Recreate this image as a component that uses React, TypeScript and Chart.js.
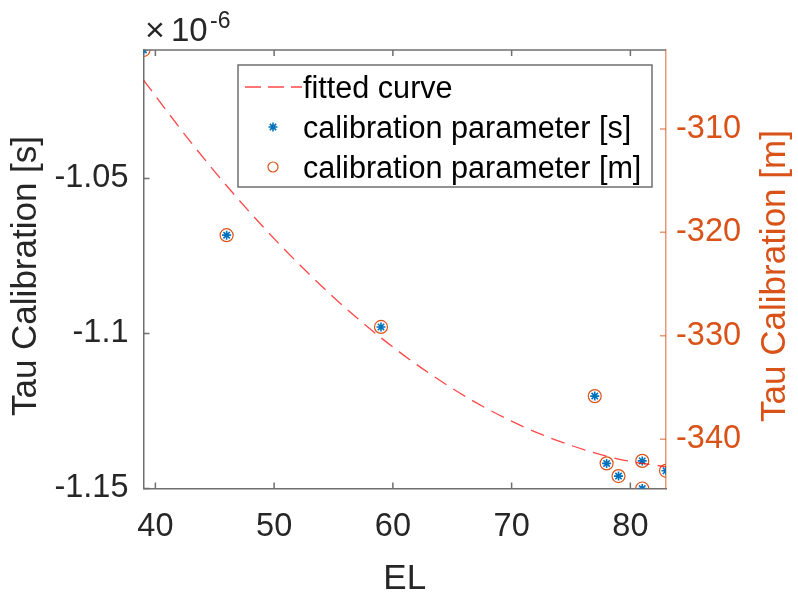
import React, { useEffect, useRef } from 'react';
import { Chart, registerables } from 'chart.js';

Chart.register(...registerables);

// ---- data ----
const elevation = [39, 46, 59, 77, 78, 79, 81, 81, 83];
// Tau calibration in units of 1e-6 s
const tauSeconds = [-1.0086, -1.0683, -1.0979, -1.1202, -1.1419, -1.146, -1.1411, -1.15, -1.1443];
// Tau calibration in metres
const tauMeters = [-302.37, -320.27, -329.14, -335.83, -342.33, -343.56, -342.09, -344.76, -343.05];
// fitted curve
const fitElevation = [39, 43, 47, 51, 55, 59, 63, 67, 71, 75, 79, 83];
const fitTau = [-1.0183, -1.0384, -1.0568, -1.0734, -1.0883, -1.1014, -1.1127, -1.1223, -1.1301, -1.1361, -1.1405, -1.143];

const xTicks = [40, 50, 60, 70, 80];
const leftTicks = [-1.15, -1.1, -1.05];
const rightTicks = [-340, -330, -320, -310];
const xRange = [39, 83];
const leftRange = [-1.15, -1.0086];
const rightRange = [-344.76, -302.37];

const seriesLabels = ['fitted curve', 'calibration parameter [s]', 'calibration parameter [m]'];
const xTitle = 'EL';
const leftTitle = 'Tau Calibration [s]';
const rightTitle = 'Tau Calibration [m]';
const exponentBase = '10';
const exponentPower = '-6';

// ---- styles ----
const FONT = '"Liberation Sans", Arial, Helvetica, sans-serif';
const AXIS = '#6f6f6f';
const TEXT = '#262626';
const BLUE = '#0072BD';
const ORANGE = '#D95319';
const ORANGE_AXIS = 'rgba(217,83,25,0.6)';
const FIT = 'rgba(255,0,0,0.72)';

function drawStar(ctx: CanvasRenderingContext2D, cx: number, cy: number, r: number) {
  const d = r * Math.SQRT1_2;
  ctx.beginPath();
  ctx.moveTo(cx - r, cy); ctx.lineTo(cx + r, cy);
  ctx.moveTo(cx, cy - r); ctx.lineTo(cx, cy + r);
  ctx.moveTo(cx - d, cy - d); ctx.lineTo(cx + d, cy + d);
  ctx.moveTo(cx - d, cy + d); ctx.lineTo(cx + d, cy - d);
  ctx.stroke();
}

const matlabFrame = {
  id: 'matlabFrame',
  afterDraw(chart: any) {
    const { ctx, chartArea: a, scales } = chart;
    const xs = scales.x, ys = scales.y, ys2 = scales.y2;
    ctx.save();
    // top box line
    ctx.strokeStyle = AXIS;
    ctx.lineWidth = 1.5;
    ctx.beginPath();
    ctx.moveTo(a.left, a.top);
    ctx.lineTo(a.right, a.top);
    ctx.stroke();
    // inward ticks
    const tl = 6;
    ctx.beginPath();
    xTicks.forEach((v) => {
      const px = xs.getPixelForValue(v);
      ctx.moveTo(px, a.bottom); ctx.lineTo(px, a.bottom - tl);
      ctx.moveTo(px, a.top); ctx.lineTo(px, a.top + tl);
    });
    leftTicks.forEach((v) => {
      const py = ys.getPixelForValue(v);
      ctx.moveTo(a.left, py); ctx.lineTo(a.left + tl, py);
    });
    ctx.stroke();
    ctx.strokeStyle = ORANGE_AXIS;
    ctx.beginPath();
    rightTicks.forEach((v) => {
      const py = ys2.getPixelForValue(v);
      ctx.moveTo(a.right, py); ctx.lineTo(a.right - tl, py);
    });
    ctx.stroke();

    // exponent label
    ctx.fillStyle = TEXT;
    ctx.textAlign = 'left';
    ctx.textBaseline = 'alphabetic';
    ctx.font = `34px ${FONT}`;
    ctx.fillText('\u00d7', 145, 41);
    ctx.font = `33px ${FONT}`;
    ctx.fillText(exponentBase, 171, 41);
    ctx.font = `23px ${FONT}`;
    ctx.fillText(exponentPower, 210, 28);

    // y titles (both read bottom-to-top)
    ctx.font = `35px ${FONT}`;
    ctx.textAlign = 'center';
    ctx.textBaseline = 'middle';
    ctx.save();
    ctx.translate(26, 276);
    ctx.rotate(-Math.PI / 2);
    ctx.fillStyle = TEXT;
    ctx.fillText(leftTitle, 0, 0);
    ctx.restore();
    ctx.save();
    ctx.translate(775, 276);
    ctx.rotate(-Math.PI / 2);
    ctx.fillStyle = ORANGE;
    ctx.fillText(rightTitle, 0, 0);
    ctx.restore();

    // legend
    const lx = 238, ly = 65, lw = 414, lh = 122;
    ctx.fillStyle = '#ffffff';
    ctx.fillRect(lx, ly, lw, lh);
    ctx.strokeStyle = AXIS;
    ctx.lineWidth = 1.5;
    ctx.strokeRect(lx, ly, lw, lh);
    const ds = chart.data.datasets;
    const rows = [87, 127, 167];
    ctx.font = `30.6px ${FONT}`;
    ctx.textAlign = 'left';
    ctx.textBaseline = 'alphabetic';
    ds.forEach((d: any, i: number) => {
      const cy = rows[i];
      ctx.save();
      if (d.showLine) {
        ctx.strokeStyle = d.borderColor;
        ctx.lineWidth = d.borderWidth;
        ctx.setLineDash([16, 7]);
        ctx.beginPath();
        ctx.moveTo(245, cy);
        ctx.lineTo(302, cy);
        ctx.stroke();
      } else if (d.pointStyle === 'star') {
        ctx.strokeStyle = d.borderColor;
        ctx.lineWidth = d.borderWidth;
        drawStar(ctx, 273, cy, 4.5);
      } else {
        ctx.strokeStyle = d.borderColor;
        ctx.lineWidth = d.borderWidth;
        ctx.beginPath();
        ctx.arc(273, cy, 5, 0, Math.PI * 2);
        ctx.stroke();
      }
      ctx.restore();
      ctx.fillStyle = '#000000';
      ctx.fillText(d.label, 303, cy + 10.5);
    });
    ctx.restore();
  },
};

export default function App() {
  const ref = useRef<HTMLCanvasElement>(null);
  useEffect(() => {
    if (!ref.current) return;
    const chart = new Chart(ref.current, {
      type: 'scatter',
      data: {
        datasets: [
          {
            label: seriesLabels[0],
            data: fitElevation.map((x, i) => ({ x, y: fitTau[i] })),
            showLine: true,
            borderColor: FIT,
            borderWidth: 1.3,
            borderDash: [14, 8],
            pointRadius: 0,
            cubicInterpolationMode: 'monotone',
            yAxisID: 'y',
          },
          {
            label: seriesLabels[1],
            data: elevation.map((x, i) => ({ x, y: tauSeconds[i] })),
            showLine: false,
            pointStyle: 'star',
            pointRadius: 4.5,
            borderColor: BLUE,
            backgroundColor: BLUE,
            borderWidth: 1.6,
            yAxisID: 'y',
          },
          {
            label: seriesLabels[2],
            data: elevation.map((x, i) => ({ x, y: tauMeters[i] })),
            showLine: false,
            pointStyle: 'circle',
            pointRadius: 6.5,
            borderColor: ORANGE,
            backgroundColor: 'rgba(0,0,0,0)',
            borderWidth: 1.2,
            yAxisID: 'y2',
          },
        ],
      } as any,
      options: {
        responsive: false,
        animation: false,
        devicePixelRatio: 1,
        layout: { padding: { top: 50, left: 0, right: 0, bottom: 0 } },
        plugins: { legend: { display: false }, tooltip: { enabled: false } },
        scales: {
          x: {
            type: 'linear',
            position: 'bottom',
            min: xRange[0],
            max: xRange[1],
            grid: { display: false, drawTicks: false },
            border: { display: true, color: AXIS, width: 1.5 },
            afterBuildTicks: (s: any) => { s.ticks = xTicks.map((v) => ({ value: v })); },
            afterFit: (s: any) => { s.height = 104.5; s.paddingLeft = 0; s.paddingRight = 0; },
            ticks: {
              autoSkip: false,
              maxRotation: 0,
              padding: 19,
              color: TEXT,
              font: { family: FONT, size: 32.5 },
              callback: (v: any) => String(v),
            },
            title: {
              display: true,
              text: xTitle,
              color: TEXT,
              font: { family: FONT, size: 35, lineHeight: 0.777 },
              padding: 0,
            },
          },
          y: {
            type: 'linear',
            position: 'left',
            min: leftRange[0],
            max: leftRange[1],
            grid: { display: false, drawTicks: false },
            border: { display: true, color: AXIS, width: 1.5 },
            afterBuildTicks: (s: any) => { s.ticks = leftTicks.map((v) => ({ value: v })); },
            afterFit: (s: any) => { s.width = 143.5; s.paddingTop = 0; s.paddingBottom = 0; },
            ticks: {
              autoSkip: false,
              padding: 15,
              color: TEXT,
              font: { family: FONT, size: 32.5 },
              callback: (v: any) => String(Number(Number(v).toFixed(2))),
            },
          },
          y2: {
            type: 'linear',
            position: 'right',
            min: rightRange[0],
            max: rightRange[1],
            grid: { display: false, drawTicks: false },
            border: { display: true, color: ORANGE_AXIS, width: 1.5 },
            afterBuildTicks: (s: any) => { s.ticks = rightTicks.map((v) => ({ value: v })); },
            afterFit: (s: any) => { s.width = 132; s.paddingTop = 0; s.paddingBottom = 0; },
            ticks: {
              autoSkip: false,
              padding: 10,
              color: ORANGE,
              font: { family: FONT, size: 32.5 },
              callback: (v: any) => String(v),
            },
          },
        },
      } as any,
      plugins: [matlabFrame],
    });
    return () => chart.destroy();
  }, []);
  return (
    <div style={{ position: 'fixed', left: 0, top: 0, width: 798, height: 593, background: '#ffffff' }}>
      <canvas ref={ref} width={798} height={593} style={{ display: 'block', width: 798, height: 593 }} />
    </div>
  );
}
